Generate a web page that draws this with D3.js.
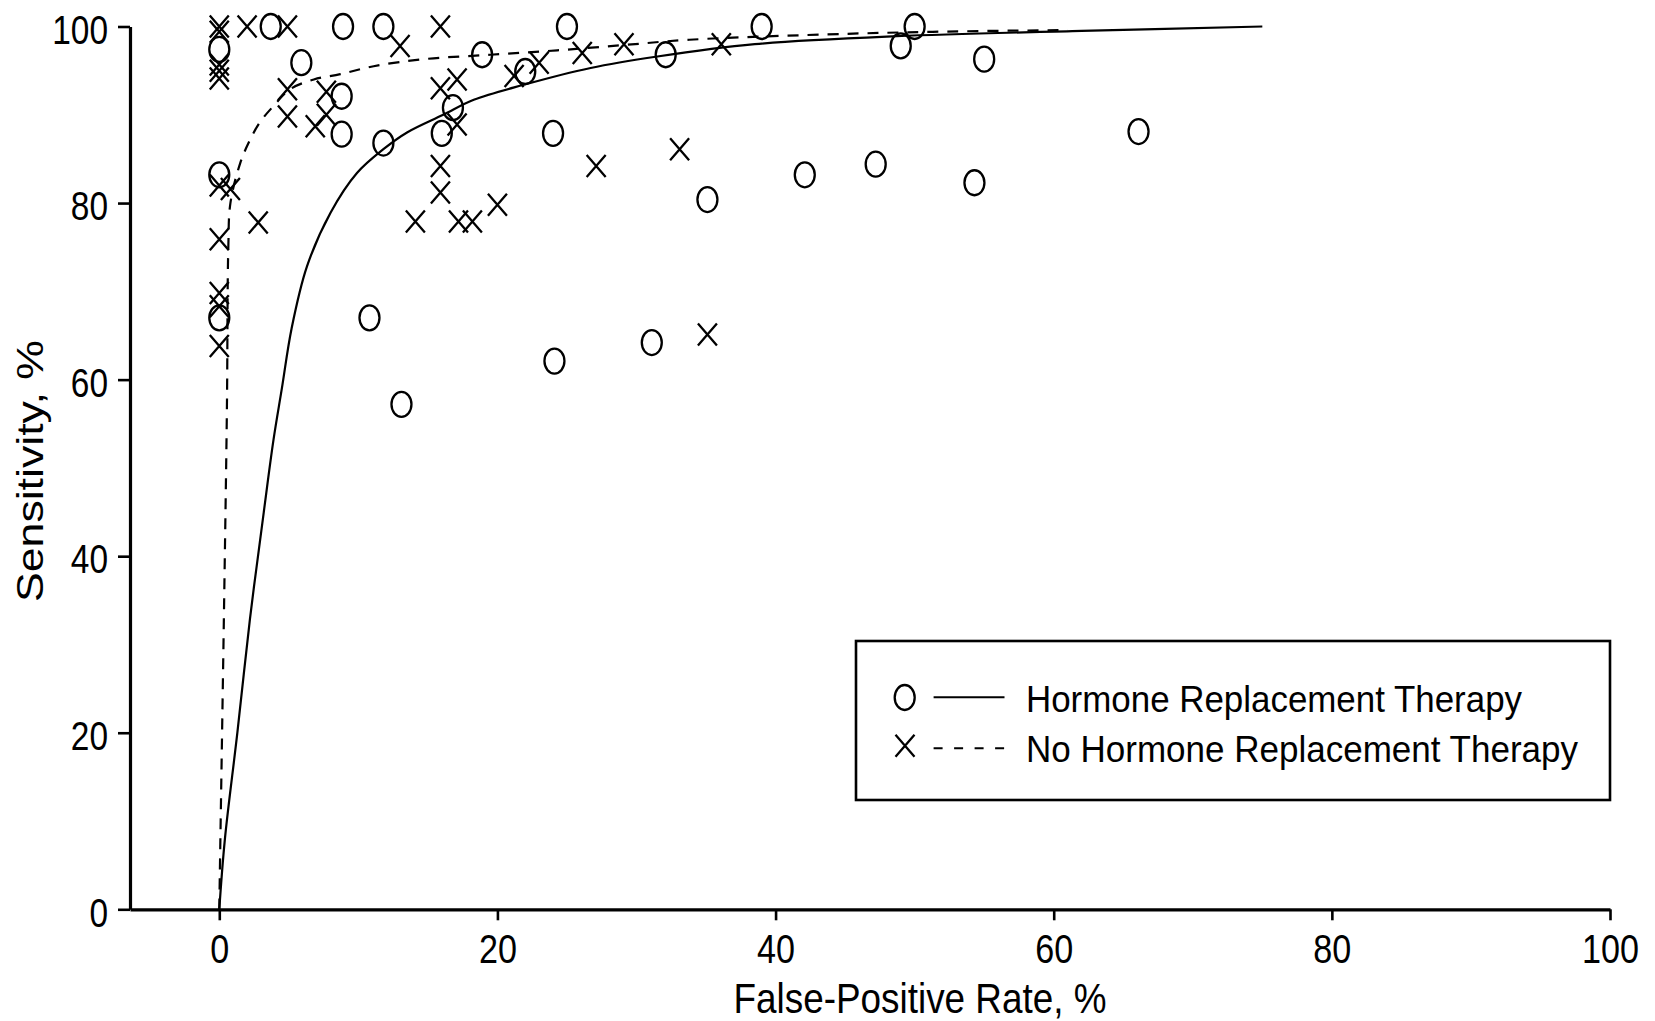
<!DOCTYPE html>
<html>
<head>
<meta charset="utf-8">
<script src="https://cdn.jsdelivr.net/npm/d3@7"></script>
<style>
  html, body { margin: 0; padding: 0; background: #fff; }
  svg { display: block; }
  text { font-family: "Liberation Sans", Arial, Helvetica, sans-serif; fill: #000; }
</style>
</head>
<body>
<svg id="chart" width="1655" height="1021"></svg>
<script>
// ---------------- data ----------------
const xTickValues = [0, 20, 40, 60, 80, 100];
const yTickValues = [0, 20, 40, 60, 80, 100];

const xTitle = "False-Positive Rate, %";
const yTitle = "Sensitivity, %";
const seriesNames = ["Hormone Replacement Therapy", "No Hormone Replacement Therapy"];

// Hormone Replacement Therapy studies (circles)
const hrtFPR  = [0, 0, 0, 3.7, 5.9, 8.9, 8.8, 8.8, 11.8, 11.8, 10.8, 13.1, 16.8, 16.0, 18.9, 22.0, 24.0, 25.0, 24.1, 31.1, 32.1, 35.1, 39.0, 42.1, 47.2, 49.0, 50.0, 54.3, 55.0, 66.1];
const hrtSens = [97.4, 83.2, 67.0, 100, 95.9, 100, 92.1, 87.8, 100, 86.8, 67.0, 57.2, 90.8, 87.9, 96.8, 94.9, 87.9, 100, 62.1, 64.2, 96.8, 80.4, 100, 83.2, 84.4, 97.8, 100, 82.3, 96.3, 88.1];

// No Hormone Replacement Therapy studies (crosses)
const noHrtFPR  = [0, 0, 0, 0, 0, 0, 0.8, 0, 0, 0, 0, 2.0, 4.9, 2.8, 4.9, 4.9, 6.9, 7.7, 7.7, 13.0, 15.9, 15.9, 17.1, 17.1, 15.9, 15.9, 14.1, 17.2, 18.2, 20.0, 21.2, 23.0, 26.1, 29.1, 27.1, 33.1, 35.1, 36.1];
const noHrtSens = [100, 99.4, 95.7, 95.0, 94.1, 82.0, 81.6, 75.9, 69.8, 68.3, 63.8, 100, 100, 77.8, 92.9, 89.8, 88.7, 92.6, 90.0, 97.8, 100, 93.0, 94.0, 88.9, 84.2, 81.2, 77.9, 77.9, 77.9, 79.8, 94.4, 95.9, 97.0, 98.0, 84.2, 86.1, 65.1, 98.0];

// Summary ROC curves
const hrtCurveFPR  = [0, 0.4, 1.3, 2.2, 3.2, 3.9, 4.5, 5.2, 6.3, 8.0, 9.9, 11.8, 13.5, 16.1, 18.3, 21.9, 26.7, 31.5, 38.5, 48.7, 62, 75];
const hrtCurveSens = [0, 7.9, 20, 32.8, 45, 53.2, 59, 65.8, 72.8, 78.9, 83.4, 86.1, 88.0, 90.0, 91.7, 93.4, 95.3, 96.6, 98.0, 98.9, 99.5, 100];

const noHrtCurveFPR  = [0, 0.1, 0.35, 0.55, 0.65, 0.8, 1.5, 2.1, 2.9, 3.9, 5.1, 6.8, 8.7, 11.1, 14.7, 19.5, 24.3, 29.1, 33.8, 43.6, 51.3, 61];
const noHrtCurveSens = [0, 10, 35, 57, 75, 80, 84.5, 86.8, 89.1, 91.0, 92.9, 94.0, 94.6, 95.5, 96.3, 96.8, 97.3, 97.9, 98.5, 99.1, 99.4, 99.6];

// ---------------- drawing ----------------
const svg = d3.select("#chart");

const x = d3.scaleLinear().domain([-6.42, 100]).range([130, 1610]);
const y = d3.scaleLinear().domain([0, 100]).range([909.3, 26.5]);

function fitText(sel, perChar) {
  sel.each(function() {
    const t = d3.select(this);
    const s = t.text();
    t.attr("textLength", perChar * s.length).attr("lengthAdjust", "spacingAndGlyphs");
  });
}

// X axis
const gx = svg.append("g")
  .attr("transform", `translate(0,${y(0)})`)
  .call(d3.axisBottom(x).tickValues(xTickValues).tickSize(11).tickSizeOuter(0).tickPadding(14).tickFormat(d3.format("d")));
gx.select(".domain").attr("stroke", "#000").attr("stroke-width", 3.2);
gx.selectAll(".tick line").attr("stroke", "#000").attr("stroke-width", 2.6);
gx.selectAll(".tick text").attr("font-size", 40).attr("font-family", "Liberation Sans, Arial, sans-serif").attr("fill", "#000").call(fitText, 19);

// Y axis
const gy = svg.append("g")
  .attr("transform", `translate(${x(-6.42)},0)`)
  .call(d3.axisLeft(y).tickValues(yTickValues).tickSize(12).tickSizeOuter(0).tickPadding(10).tickFormat(d3.format("d")));
gy.select(".domain").attr("stroke", "#000").attr("stroke-width", 3.2);
gy.selectAll(".tick line").attr("stroke", "#000").attr("stroke-width", 2.6);
gy.selectAll(".tick text").attr("font-size", 40).attr("dy", "0.42em").attr("font-family", "Liberation Sans, Arial, sans-serif").attr("fill", "#000").call(fitText, 18.6);

// Axis titles
svg.append("text")
  .attr("x", 920).attr("y", 1013)
  .attr("text-anchor", "middle")
  .attr("font-size", 42)
  .attr("textLength", 373).attr("lengthAdjust", "spacingAndGlyphs")
  .text(xTitle);

svg.append("text")
  .attr("transform", "translate(43,471) rotate(-90)")
  .attr("text-anchor", "middle")
  .attr("font-size", 37)
  .attr("textLength", 262).attr("lengthAdjust", "spacingAndGlyphs")
  .text(yTitle);

// Curves
const line = d3.line().x(d => x(d[0])).y(d => y(d[1])).curve(d3.curveCatmullRom.alpha(0.5));
const hrtCurve = hrtCurveFPR.map((v, i) => [v, hrtCurveSens[i]]);
const noHrtCurve = noHrtCurveFPR.map((v, i) => [v, noHrtCurveSens[i]]);

svg.append("path").datum(hrtCurve)
  .attr("d", line).attr("fill", "none").attr("stroke", "#000").attr("stroke-width", 2.2);
svg.append("path").datum(noHrtCurve)
  .attr("d", line).attr("fill", "none").attr("stroke", "#000").attr("stroke-width", 2.2)
  .attr("stroke-dasharray", "11,9");

// Markers
const RX = 10, RY = 12.5, XW = 9.5, XH = 11;
const hrtPts = hrtFPR.map((v, i) => [v, hrtSens[i]]);
const noHrtPts = noHrtFPR.map((v, i) => [v, noHrtSens[i]]);

svg.append("g").selectAll("ellipse").data(hrtPts).join("ellipse")
  .attr("cx", d => x(d[0])).attr("cy", d => y(d[1]))
  .attr("rx", RX).attr("ry", RY)
  .attr("fill", "none").attr("stroke", "#000").attr("stroke-width", 2.3);

const xPath = `M${-XW},${-XH}L${XW},${XH}M${XW},${-XH}L${-XW},${XH}`;
svg.append("g").selectAll("path").data(noHrtPts).join("path")
  .attr("transform", d => `translate(${x(d[0])},${y(d[1])})`)
  .attr("d", xPath)
  .attr("fill", "none").attr("stroke", "#000").attr("stroke-width", 2.3);

// Legend
const lg = svg.append("g");
lg.append("rect")
  .attr("x", 856).attr("y", 641).attr("width", 754).attr("height", 159)
  .attr("fill", "#fff").attr("stroke", "#000").attr("stroke-width", 2.6);

lg.append("ellipse").attr("cx", 904.7).attr("cy", 697.5).attr("rx", RX).attr("ry", RY)
  .attr("fill", "none").attr("stroke", "#000").attr("stroke-width", 2.3);
lg.append("line").attr("x1", 933.6).attr("x2", 1004.5).attr("y1", 697.3).attr("y2", 697.3)
  .attr("stroke", "#000").attr("stroke-width", 2);
lg.append("text").attr("x", 1026).attr("y", 711.7).attr("font-size", 37)
  .attr("textLength", 496).attr("lengthAdjust", "spacingAndGlyphs")
  .text(seriesNames[0]);

lg.append("path").attr("transform", "translate(905,745.8)").attr("d", xPath)
  .attr("fill", "none").attr("stroke", "#000").attr("stroke-width", 2.3);
lg.append("line").attr("x1", 933.6).attr("x2", 1004.5).attr("y1", 748.3).attr("y2", 748.3)
  .attr("stroke", "#000").attr("stroke-width", 2).attr("stroke-dasharray", "9,11.5");
lg.append("text").attr("x", 1026).attr("y", 761.7).attr("font-size", 37)
  .attr("textLength", 552).attr("lengthAdjust", "spacingAndGlyphs")
  .text(seriesNames[1]);
</script>
</body>
</html>
